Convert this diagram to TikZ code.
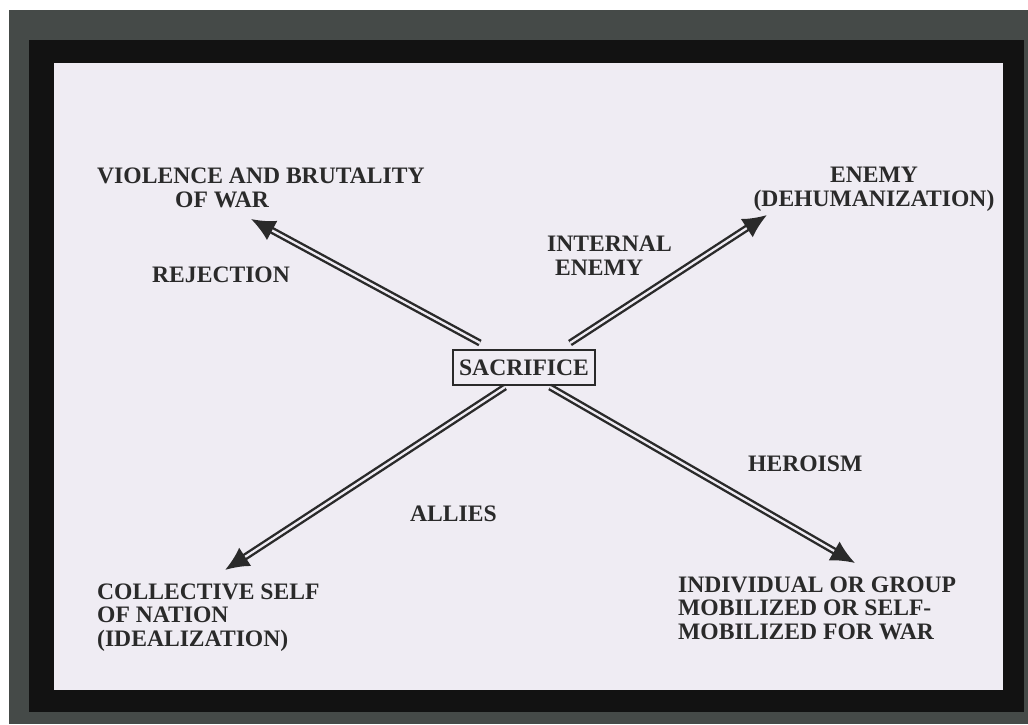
\documentclass[tikz,border=0pt]{standalone}
\usepackage{fontspec}
\setmainfont{Liberation Serif}
\usetikzlibrary{arrows.meta}
\definecolor{slidegray}{HTML}{454A48}
\definecolor{slideblack}{HTML}{121212}
\definecolor{paper}{HTML}{EFECF3}
\definecolor{ink}{HTML}{2A2A2A}
\tikzset{
  lbl/.style={font=\bfseries\fontsize{23.6}{23.4}\selectfont, text=ink, inner sep=0pt, align=left, anchor=base west},
  dblarrow/.style={draw=ink, line width=2.4pt, double=paper, double distance=2.3pt, -{Latex[length=24pt,width=22pt]}}
}

\begin{document}
\begin{tikzpicture}[x=1pt,y=-1pt]
\useasboundingbox (0,0) rectangle (1028,724);
\fill[white] (0,0) rectangle (1028,724);
\fill[slidegray] (9,10) rectangle (1028,724);
\fill[slideblack] (29,40) rectangle (1024,712);
\fill[paper] (54,63) rectangle (1003,690);
% centre box
\node[lbl, anchor=base, draw=ink, line width=2pt, inner xsep=6pt, inner ysep=0pt,
  minimum height=35pt, text depth=0pt] (sacrifice) at (524,375) {SACRIFICE};
% corner texts (anchored on the last line)
\node[lbl] (violence) at (97,207) {VIOLENCE AND BRUTALITY\\\hspace*{78pt}OF WAR};
\node[lbl, align=center, anchor=base] (enemy) at (874,206) {ENEMY\\(DEHUMANIZATION)};
\node[lbl] (collective) at (97,646) {COLLECTIVE SELF\\OF NATION\\(IDEALIZATION)};
\node[lbl] (individual) at (678,639) {INDIVIDUAL OR GROUP\\MOBILIZED OR SELF-\\MOBILIZED FOR WAR};
% arrow labels
\node[lbl] (rejection) at (152,282) {REJECTION};
\node[lbl] (internal) at (547,275) {INTERNAL\\\hspace*{8pt}ENEMY};
\node[lbl] (heroism) at (748,471) {HEROISM};
\node[lbl] (allies) at (410,521) {ALLIES};
% arrow ends
\coordinate (tailnw) at (480,343);
\coordinate (tailne) at (570,343);
\coordinate (tailsw) at (505,387);
\coordinate (tailse) at (550,387);
\coordinate (tipnw) at (251,219);
\coordinate (tipne) at (767,215);
\coordinate (tipsw) at (225,570);
\coordinate (tipse) at (855,563);
\draw[dblarrow] (tailnw) -- (tipnw);
\draw[dblarrow] (tailne) -- (tipne);
\draw[dblarrow] (tailsw) -- (tipsw);
\draw[dblarrow] (tailse) -- (tipse);
\end{tikzpicture}
\end{document}
